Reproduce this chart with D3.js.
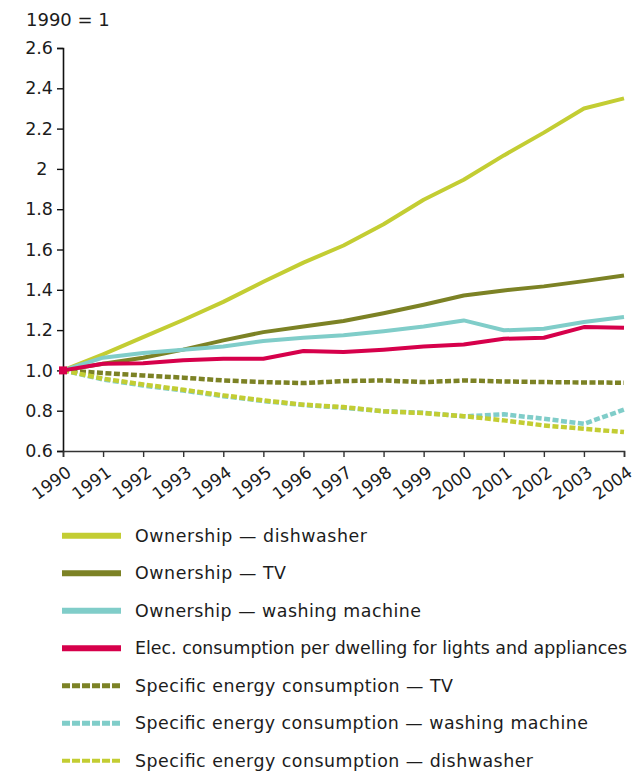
<!DOCTYPE html>
<html><head><meta charset="utf-8">
<script src="https://cdn.jsdelivr.net/npm/d3@7"></script>
<style>html,body{margin:0;padding:0;background:#fff;} text{font-family:"DejaVu Sans",Verdana,sans-serif;fill:#1c1c1c;}</style>
</head><body><svg id="c" width="635" height="773"></svg>
<script>
const years = [1990,1991,1992,1993,1994,1995,1996,1997,1998,1999,2000,2001,2002,2003,2004];
const yTickValues = [0.6,0.8,1.0,1.2,1.4,1.6,1.8,2.0,2.2,2.4,2.6];
const yTickLabels = ["0.6","0.8","1.0","1.2","1.4","1.6","1.8","2 ","2.2","2.4","2.6"];
const unitLabel = "1990 = 1";
const ownDishwasher = [1.0,1.08,1.165,1.25,1.34,1.44,1.535,1.62,1.725,1.847,1.946,2.067,2.18,2.30,2.35];
const ownTV = [1.0,1.033,1.063,1.103,1.149,1.19,1.218,1.245,1.284,1.326,1.372,1.397,1.417,1.443,1.471];
const ownWashing = [1.0,1.063,1.086,1.103,1.119,1.146,1.162,1.174,1.194,1.218,1.248,1.199,1.207,1.24,1.265];
const elecDwelling = [1.0,1.033,1.036,1.05,1.058,1.058,1.096,1.091,1.103,1.119,1.129,1.157,1.162,1.215,1.212];
const specTV = [1.0,0.987,0.975,0.964,0.95,0.942,0.937,0.947,0.95,0.942,0.95,0.945,0.942,0.94,0.939];
const specWashing = [1.0,0.955,0.925,0.9,0.872,0.848,0.828,0.815,0.797,0.79,0.772,0.782,0.76,0.735,0.805];
const specDishwasher = [1.0,0.959,0.93,0.904,0.876,0.851,0.83,0.818,0.797,0.788,0.773,0.752,0.727,0.71,0.694];
const seriesNames = ["Ownership — dishwasher","Ownership — TV","Ownership — washing machine","Elec. consumption per dwelling for lights and appliances","Specific energy consumption — TV","Specific energy consumption — washing machine","Specific energy consumption — dishwasher"];

const colors = ["#c3cd33","#7c8225","#80cdc9","#d6004b","#7c8225","#80cdc9","#c3cd33"];
const dashed = [false,false,false,false,true,true,true];
const legendTextWidths = [232,151,286,492,318,453,398];
const values = [ownDishwasher,ownTV,ownWashing,elecDwelling,specTV,specWashing,specDishwasher];
const series = seriesNames.map((n,i)=>({name:n,color:colors[i],dashed:dashed[i],values:values[i]}));

const svg = d3.select("#c");
const x = d3.scaleLinear().domain([1990,2004]).range([63,624]);
const y = d3.scaleLinear().domain([0.6,2.6]).range([451,48]);

svg.append("text").attr("x",26).attr("y",26).style("font-size","18px").text(unitLabel);

// y axis
const yAxis = d3.axisLeft(y).tickValues(yTickValues).tickSize(6).tickPadding(4)
  .tickFormat((d,i)=>yTickLabels[i]);
const gy = svg.append("g").attr("transform","translate(63,0)").call(yAxis);
gy.select(".domain").attr("stroke","#111").attr("stroke-width",1.6);
gy.selectAll(".tick line").attr("stroke","#111").attr("stroke-width",1.4);
gy.selectAll(".tick text").style("font-size","17.5px").style("white-space","pre").attr("fill","#1c1c1c").attr("font-family",null);

// x axis
const xAxis = d3.axisBottom(x).tickValues(years).tickSize(6).tickFormat(d3.format("d"));
const gx = svg.append("g").attr("transform","translate(0,451)").call(xAxis);
gx.select(".domain").attr("stroke","#333").attr("stroke-width",1.6);
gx.selectAll(".tick line").attr("stroke","#333").attr("stroke-width",1.4);
gx.selectAll(".tick text").style("font-size","17px").attr("fill","#1c1c1c").attr("font-family",null)
  .attr("text-anchor","end").attr("dy",null).attr("y",0)
  .attr("transform","translate(9,24) rotate(-36)");

const line = d3.line().x((d,i)=>x(years[i])).y(d=>y(d));
const drawOrder = [4,5,6,1,0,2,3];
drawOrder.forEach(k=>{
  const s = series[k];
  svg.append("path").datum(s.values).attr("d",line).attr("fill","none")
    .attr("stroke",s.color).attr("stroke-width",s.dashed?4.5:4)
    .attr("stroke-dasharray",s.dashed?"6,2.5":null).attr("stroke-linejoin","round");
});
svg.append("rect").attr("x",x(1990)-4).attr("y",y(elecDwelling[0])-4).attr("width",8).attr("height",8).attr("fill",colors[3]);

// legend
const lg = svg.append("g");
series.forEach((s,i)=>{
  const cy = 535.7 + i*37.5;
  lg.append("line").attr("x1",62).attr("x2",121).attr("y1",cy).attr("y2",cy)
    .attr("stroke",s.color).attr("stroke-width",s.dashed?(i===6?4:5):6)
    .attr("stroke-dasharray",s.dashed?"8,2":null);
  lg.append("text").attr("x",135).attr("y",cy+6).style("font-size","17.4px")
    .attr("textLength",legendTextWidths[i]).attr("lengthAdjust","spacing").text(s.name);
});
</script></body></html>
